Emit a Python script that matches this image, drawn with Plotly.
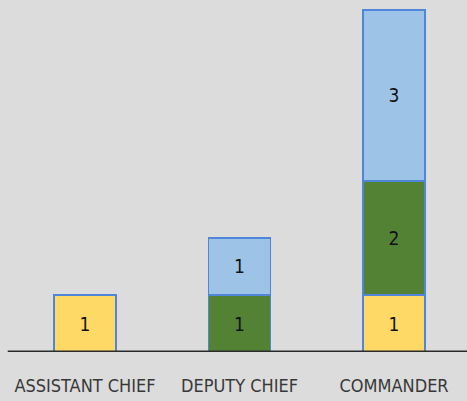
import plotly.graph_objects as go

categories = ["ASSISTANT CHIEF", "DEPUTY CHIEF", "COMMANDER"]
yellow_vals = [1, 0, 1]
green_vals = [0, 1, 2]
blue_vals = [0, 1, 3]

FONT = "DejaVu Sans Condensed, Liberation Sans Narrow, Roboto Condensed, Arial Narrow, sans-serif"
border = "#4F86D9"

fig = go.Figure()
for vals, color in [(yellow_vals, "#FFD966"), (green_vals, "#548235"), (blue_vals, "#9DC3E6")]:
    fig.add_trace(go.Bar(
        x=list(range(len(categories))), y=vals,
        marker=dict(color=color, line=dict(color=border, width=1.5)),
        width=0.4,
        text=[str(v) if v else "" for v in vals],
        textposition="inside", insidetextanchor="middle",
        textfont=dict(family=FONT, size=19, color="#111111"),
        showlegend=False, hoverinfo="skip",
    ))

fig.update_layout(
    barmode="stack",
    width=467, height=401,
    margin=dict(l=0, r=0, t=0, b=49),
    paper_bgcolor="#dcdcdc", plot_bgcolor="rgba(0,0,0,0)",
    xaxis=dict(range=[-0.55, 2.472], tickvals=list(range(len(categories))), ticktext=categories,
               showgrid=False, zeroline=False, showline=False, ticks="",
               tickfont=dict(family=FONT, size=18, color="#383838"), ticklabelstandoff=21),
    yaxis=dict(range=[0, 6.175], visible=False, showgrid=False, zeroline=False),
    uniformtext=dict(minsize=10, mode="show"),
)
fig.add_shape(type="line", xref="x", yref="y", x0=-0.5, x1=2.6, y0=0, y1=0,
              line=dict(color="#2b2b2b", width=3), layer="above")
fig.write_html("out.html", config={"displayModeBar": False},
               post_script="document.body.style.margin='0';document.body.style.padding='0';")
